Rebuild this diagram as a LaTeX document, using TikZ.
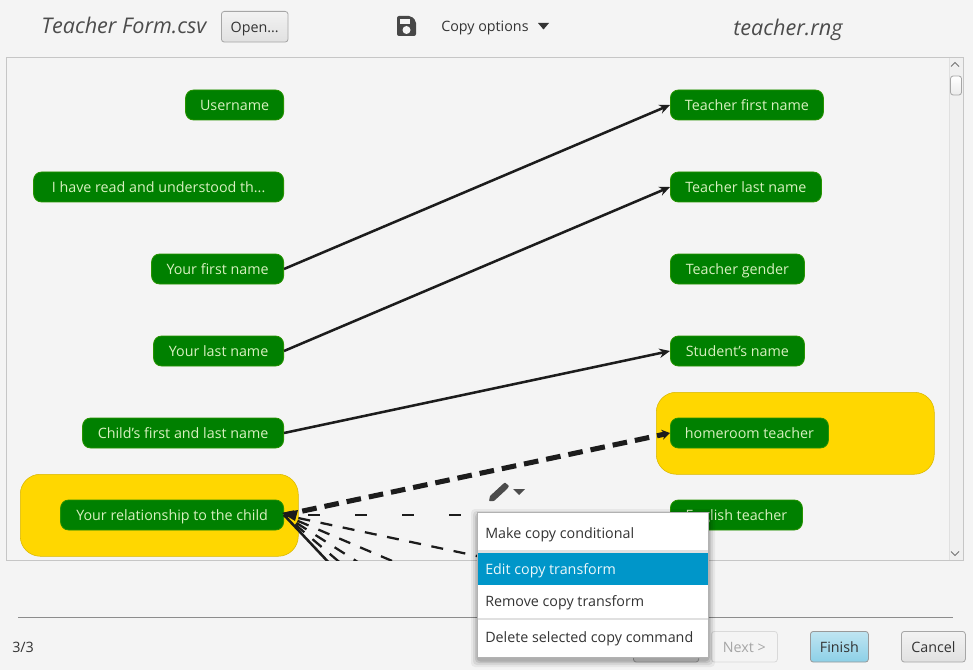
\documentclass[tikz,border=0pt]{standalone}
\usepackage{fontspec}
\setmainfont{Open Sans}
\usetikzlibrary{arrows.meta}
\definecolor{bgc}{HTML}{F4F4F4}
\definecolor{pane}{HTML}{C6C6C6}
\definecolor{gr}{HTML}{008000}
\definecolor{grt}{HTML}{D8F0C0}
\definecolor{yel}{HTML}{FFD700}
\definecolor{ink}{HTML}{1C1C1C}
\definecolor{hl}{HTML}{0096C9}
\definecolor{txt}{HTML}{333333}
\tikzset{
  x=0.75pt,y=-0.75pt,
  ui/.style={font=\fontsize{10.72pt}{12pt}\selectfont,text height=9.8pt,text depth=1.6pt},
  field/.style={ui,draw=gr!85!yellow,line width=0.6pt,fill=gr,rounded corners=6pt,text=grt,inner sep=0pt,
    minimum height=22.5pt,anchor=east},
  rfield/.style={field,anchor=west},
  match/.style={draw=yel!85!black,line width=0.4pt,fill=yel,rounded corners=15pt,minimum width=208.5pt,minimum height=61.5pt,inner sep=0pt,anchor=north west},
  link/.style={draw=ink,line width=1.9pt,-{Stealth[length=8pt,width=7pt]}},
  heavy/.style={draw=ink,line width=3.8pt,dash pattern=on 11pt off 6pt,dash phase=3pt,-{Stealth[length=6pt,width=7.5pt]}},
  light/.style={draw=ink,line width=1.7pt,dash pattern=on 9pt off 8pt,dash phase=6pt},
  btn/.style={ui,draw=black!35,line width=0.6pt,top color=white!95!black,bottom color=black!12,rounded corners=2.2pt,inner sep=0pt,
    text=txt,minimum height=23pt,anchor=north west},
  item/.style={ui,anchor=west,inner sep=0pt,text=txt},
  plain/.style={ui,anchor=west,inner sep=0pt,text=txt},
  head/.style={anchor=west,inner sep=0pt,font=\fontsize{16.2pt}{18pt}\selectfont\itshape,text=black!70},
}
\begin{document}
\begin{tikzpicture}
\useasboundingbox (0,0) rectangle (973,670);
\fill[bgc] (0,0) rectangle (973,670);
% header
\node[head] (src) at (41,25) {Teacher Form.csv};
\node[btn,minimum width=50pt] (open) at (221,11) {Open...};
\node[plain] (copy) at (441,26) {Copy options};
\fill[txt] (538,23) -- (549,23) -- (543.5,29.5) -- cycle;
\node[head] (tgt) at (733,30) {teacher.rng};
% save icon
\fill[black!72,rounded corners=1.5pt] (397,16) -- (411,16) -- (416,21) -- (416,36) -- (397,36) -- cycle;
\fill[bgc] (400,19) rectangle (410,24);
\fill[bgc] (406.5,30) circle (3pt);
% pane
\draw[pane,line width=0.8pt,fill=bgc] (6.5,57.5) rectangle (963.5,560.5);
\fill[black!6] (949,58) rectangle (963,560);
\draw[black!12,line width=0.6pt] (949,58) -- (949,560);
\draw[black!35,line width=0.6pt,top color=white,bottom color=black!8,rounded corners=2pt] (950.5,76) rectangle (961.5,95);
\draw[black!55,line width=0.7pt] (951,66.5) -- (955,62.5) -- (959,66.5);
\draw[black!55,line width=0.7pt] (951,551.5) -- (955,555.5) -- (959,551.5);
% match highlights
\node[match] (ya) at (20,474) {};
\node[match] (yb) at (656,392) {};
% fields
\node[field,minimum width=73.5pt] (username) at (284,105) {Username};
\node[field,minimum width=187.5pt] (read) at (284,187) {I have read and understood th...};
\node[field,minimum width=99pt] (first) at (284,269) {Your first name};
\node[field,minimum width=97.5pt] (last) at (284,351) {Your last name};
\node[field,minimum width=150.75pt] (child) at (284,433) {Child's first and last name};
\node[field,minimum width=167.25pt] (rel) at (284,515) {Your relationship to the child};
\node[rfield,minimum width=114.75pt] (tfirst) at (670,105) {Teacher first name};
\node[rfield,minimum width=113.25pt] (tlast) at (670,187) {Teacher last name};
\node[rfield,minimum width=100.5pt] (tgender) at (670,269) {Teacher gender};
\node[rfield,minimum width=100.5pt] (student) at (670,351) {Student's name};
\node[rfield,minimum width=118.5pt] (home) at (670,433) {homeroom teacher};
\node[rfield,minimum width=99pt] (eng) at (670,515) {English teacher};
% free ends of clipped connectors
\coordinate (e1) at (670,597);
\coordinate (e2) at (670,679);
\coordinate (e3) at (670,761);
\coordinate (e4) at (670,843);
\coordinate (e5) at (670,925);
% connectors
\begin{scope}
\clip (7,58) rectangle (949,560);
\draw[link] (first.east) -- (tfirst.west);
\draw[link] (last.east) -- (tlast.west);
\draw[link] (child.east) -- (student.west);
\draw[heavy] (rel.east) -- (home.west);
\draw[light,dash pattern=on 9pt off 26.25pt,dash phase=17.25pt] (rel.east) -- (eng.west);
\draw[light] (rel.east) -- (e1);
\draw[light] (rel.east) -- (e2);
\draw[light] (rel.east) -- (e3);
\draw[light] (rel.east) -- (e4);
\draw[draw=ink,line width=1.9pt] (rel.east) -- (e5);
\fill[ink] (282,513) -- (298,510) -- (295,521) -- cycle;
\end{scope}
% pencil
\fill[black!70,rounded corners=0.5pt] (489,501) -- (490,496) -- (503,484) -- (505,482.5) -- (509,486) -- (507,489) -- (494,501) -- cycle;
\fill[black!70] (513,489) -- (525,489) -- (519,495) -- cycle;
% footer
\draw[black!45,line width=0.6pt] (18,617.5) -- (953,617.5);
\node[plain] (page) at (12,647) {3/3};
\node[btn,minimum width=49pt] (back) at (633,631) {};
\node[btn,minimum width=49.5pt,draw=black!15,top color=bgc,bottom color=bgc,text=black!35] (next) at (711,631) {Next >};
\node[btn,minimum width=43.5pt,draw=black!40,top color=hl!25,bottom color=hl!45] (finish) at (810,631) {Finish};
\node[btn,minimum width=48pt] (cancel) at (901,631) {Cancel};
% menu
\foreach \s/\o in {7/0.05,5/0.07,3/0.09,1.5/0.1}
  \fill[black,opacity=\o,rounded corners=3pt] (478-\s,513-\s+3) rectangle (708+\s,657+\s+3);
\fill[white] (477.5,512.5) rectangle (708,657);
\draw[black!30,line width=0.7pt] (477.5,512.5) rectangle (708,657);
\fill[black!12] (478,550) rectangle (707.5,552.5);
\fill[hl] (478,553) rectangle (707.5,585);
\fill[black!12] (478,617.5) rectangle (707.5,620);
\node[item] (m1) at (485,533) {Make copy conditional};
\node[item,text=white!92!hl] (m2) at (485,569) {Edit copy transform};
\node[item] (m3) at (485,601) {Remove copy transform};
\node[item] (m4) at (485,637) {Delete selected copy command};
\end{tikzpicture}
\end{document}
